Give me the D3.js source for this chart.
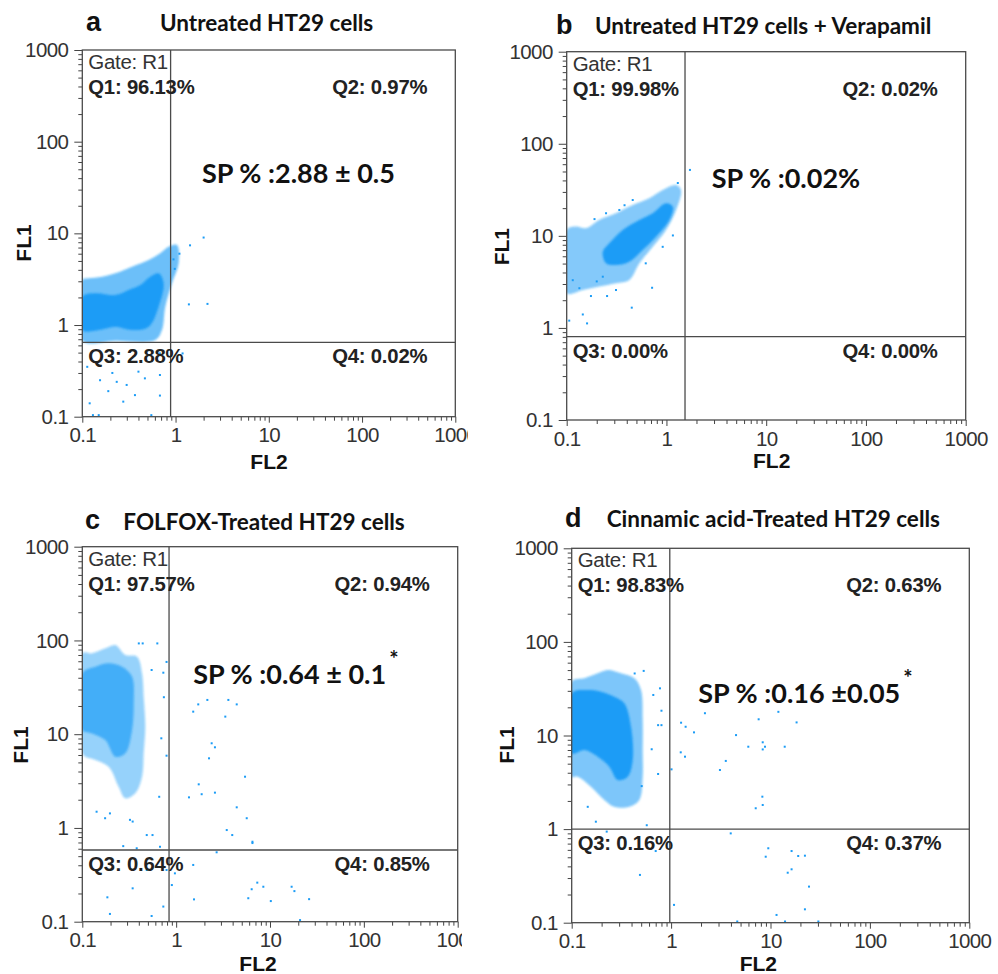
<!DOCTYPE html>
<html>
<head>
<meta charset="utf-8">
<script src="https://cdn.jsdelivr.net/npm/d3@7"></script>
<style>
  body { margin: 0; background: #fff; }
  svg { display: block; }
  .tick text { font-family: "Liberation Sans", Arial, sans-serif; font-size: 20.5px; fill: #333; letter-spacing: -0.6px; }
  .tick line { stroke: #444; }
</style>
</head>
<body>
<svg id="chart" width="998" height="974"></svg>
<script>
// ---- data (FL2 = x, FL1 = y) ----
var panelIds   = ['a', 'b', 'c', 'd'];
var titles     = ['Untreated HT29 cells', 'Untreated HT29 cells + Verapamil',
                  'FOLFOX-Treated HT29 cells', 'Cinnamic acid-Treated HT29 cells'];
var q1Labels   = ['Q1: 96.13%', 'Q1: 99.98%', 'Q1: 97.57%', 'Q1: 98.83%'];
var q2Labels   = ['Q2: 0.97%', 'Q2: 0.02%', 'Q2: 0.94%', 'Q2: 0.63%'];
var q3Labels   = ['Q3: 2.88%', 'Q3: 0.00%', 'Q3: 0.64%', 'Q3: 0.16%'];
var q4Labels   = ['Q4: 0.02%', 'Q4: 0.00%', 'Q4: 0.85%', 'Q4: 0.37%'];
var spLabels   = ['SP % :2.88 \u00b1 0.5', 'SP % :0.02%', 'SP % :0.64 \u00b1 0.1', 'SP % :0.16 \u00b10.05'];
var spStar     = [false, false, true, true];
var gateFL2    = [0.885, 1.535, 0.84, 0.97];
var gateFL1    = [0.647, 0.804, 0.582, 1.0];
var tickValues = [0.1, 1, 10, 100, 1000];
var tickLabels = ['0.1', '1', '10', '100', '1000'];

// outer (sparse) and inner (dense) outline of each main population
var haloA = [[0.1,3.1],[0.117,3.23],[0.163,3.37],[0.226,3.66],[0.341,4.32],[0.515,5.12],[0.685,6.05],[0.843,7.14],[1.035,7.45],[1.08,4.71],[0.915,2.85],[0.776,1.585],[0.715,0.881],[0.606,0.686],[0.226,0.674],[0.1,0.674]];
var coreA = [[0.1,2.04],[0.138,2.22],[0.226,2.12],[0.314,2.41],[0.419,2.73],[0.536,3.37],[0.659,3.66],[0.745,2.85],[0.659,1.585],[0.515,0.958],[0.341,0.881],[0.226,0.958],[0.15,0.881],[0.1,0.881]];
var haloB = [[0.1,11.6],[0.124,12.6],[0.156,12.1],[0.212,14.9],[0.312,17.6],[0.459,21.6],[0.673,25.6],[0.917,31.5],[1.25,35.6],[1.40,31.5],[1.25,19.1],[0.989,11.6],[0.728,7.62],[0.535,5.03],[0.424,3.31],[0.312,3.05],[0.212,2.81],[0.145,2.58],[0.1,2.38]];
var coreB = [[0.23,6.73],[0.267,8.30],[0.364,11.6],[0.535,14.9],[0.728,17.6],[0.989,22.6],[1.16,20.7],[1.07,14.9],[0.786,9.79],[0.578,7.02],[0.424,5.24],[0.312,4.82],[0.248,5.03]];
var haloC = [[0.1,72.9],[0.127,72.9],[0.176,82.4],[0.225,89.4],[0.287,70.0],[0.383,67.1],[0.433,44.7],[0.451,25.1],[0.469,12.0],[0.451,6.25],[0.433,3.52],[0.367,2.34],[0.287,2.07],[0.244,2.75],[0.191,4.50],[0.138,5.31],[0.108,5.75],[0.1,6.25]];
var coreC = [[0.1,44.7],[0.138,52.5],[0.191,57.1],[0.265,52.5],[0.339,41.0],[0.353,21.4],[0.339,11.1],[0.287,6.25],[0.225,5.75],[0.176,8.67],[0.127,10.2],[0.1,11.1]];
var haloD = [[0.1,37.6],[0.134,40.8],[0.183,46.2],[0.23,50.1],[0.313,46.2],[0.427,40.8],[0.498,30.6],[0.518,14.7],[0.518,6.46],[0.518,3.63],[0.479,2.05],[0.38,1.73],[0.268,1.73],[0.213,2.05],[0.156,2.84],[0.115,3.63],[0.1,3.63]];
var coreD = [[0.1,28.2],[0.145,30.6],[0.197,29.4],[0.268,26.0],[0.338,22.1],[0.395,12.4],[0.411,5.47],[0.366,3.63],[0.29,3.35],[0.239,4.64],[0.183,5.94],[0.134,7.0],[0.1,6.46]];

// single events outside the main populations
var dotsA = [[2.0,9.0],[2.2,1.7],[1.43,7.4],[1.1,6.0],[1.39,1.68],[0.12,0.14],[0.19,0.19],[0.155,0.25],[0.234,0.24],[0.299,0.222],[0.469,0.262],[0.68,0.17],[0.68,0.285],[0.367,0.172],[0.275,0.146],[0.13,0.104],[0.15,0.104],[0.55,0.104],[0.113,0.35],[0.68,0.49],[0.49,0.49],[1.19,0.49],[0.21,0.3],[0.4,0.31],[0.95,5.2],[0.98,4.1]];
var dotsB = [[0.106,1.2],[0.16,1.12],[0.145,1.4],[0.175,2.22],[0.254,2.22],[0.449,1.66],[0.718,2.73],[0.115,3.3],[0.134,2.7],[1.72,52],[0.312,2.58],[0.23,3.6],[0.62,5.03],[0.917,7.6],[1.16,10.1],[0.459,24.5],[0.337,19.1],[0.248,17.6],[0.19,15.2],[0.38,21.5],[1.3,37.5],[0.2,3.2]];
var dotsC = [[0.40,93],[0.44,93],[0.63,93],[0.79,59],[0.73,45.3],[0.548,48.4],[0.74,24.8],[0.695,9.04],[0.79,5.9],[0.66,2.15],[0.142,1.49],[0.197,1.43],[0.175,1.27],[0.322,1.22],[0.344,1.17],[0.486,0.84],[0.56,0.84],[0.673,0.63],[0.273,0.64],[0.38,0.607],
  [0.79,0.356],[0.97,0.328],[0.9,0.246],[0.344,0.227],[0.185,0.182],[0.197,0.121],[0.548,0.115],[0.73,0.145],[0.486,0.356],[1.52,0.403],[2.7,0.55],[1.55,0.173],[5.87,0.178],[6.38,0.222],[7.32,0.261],[8.49,0.236],[10.2,0.166],[17.0,0.236],[18.2,0.212],[26.1,0.174],[20.9,0.104],
  [1.72,20.8],[2.15,23.2],[3.6,23.2],[4.42,20.8],[1.52,17.4],[3.34,15.4],[2.39,8.0],[2.59,7.25],[2.24,5.53],[5.42,3.52],[1.74,2.92],[1.87,2.29],[2.59,2.38],[1.37,2.12],[4.42,1.66],[5.65,1.27],[3.46,0.95],[3.96,0.84],[6.5,0.713],[6.5,0.69]];
var dotsD = [[0.53,49],[0.43,46],[0.662,27.1],[0.773,31.9],[0.80,18.4],[0.74,12.9],[0.8,12.9],[0.638,7.13],[0.74,3.88],[0.506,2.88],[0.569,1.1],[0.175,1.2],[0.145,1.73],[1.01,4.35],[1.26,13.7],[1.4,12.4],[1.7,10.8],[1.25,6.61],[1.38,5.94],[2.19,17.3],[4.5,10.1],[5.98,7.59],[3.1,4.28],[3.55,5.35],[7.6,14.9],[8.35,8.46],[8.8,7.59],[8.35,7.1],[12.0,17.9],[13.9,7.59],[18.3,13.8],[8.28,2.22],[7.1,1.67],[8.35,1.81],[3.98,0.90],
  [9.5,0.624],[8.95,0.507],[16.3,0.583],[19.0,0.516],[22.2,0.52],[14.9,0.342],[16.3,0.372],[24.4,0.243],[22.2,0.139],[11.5,0.121],[30.3,0.103],[14.0,0.103],[4.63,0.103],[1.07,0.155],[0.486,0.324],[0.70,0.583],[0.225,0.94],[0.336,0.80]];

var halos = [haloA, haloB, haloC, haloD];
var cores = [coreA, coreB, coreC, coreD];
var dots  = [dotsA, dotsB, dotsC, dotsD];

// ---- layout ----
var layout = [
  {x0: 82.3,  x1: 455.3, y0: 50,    y1: 416.7, clip: 468, letter: [86, 22],  title: [160, 22],   sp: [202, 172],   fl2: [269, 461.7], fl1: [23.3, 243]},
  {x0: 566.7, x1: 965.7, y0: 51.7,  y1: 420,   clip: 998, letter: [556, 25], title: [595, 25],   sp: [711.7, 177], fl2: [771.7, 460], fl1: [501.7, 246.7]},
  {x0: 82.3,  x1: 457.7, y0: 546.7, y1: 921.7, clip: 462, letter: [85, 520], title: [123.3, 521.7], sp: [193.3, 673.3], fl2: [258, 963], fl1: [20.7, 745]},
  {x0: 571.7, x1: 969.3, y0: 548.3, y1: 922.7, clip: 998, letter: [565, 518], title: [606.7, 518], sp: [698.3, 691.7], fl2: [758.3, 963.5], fl1: [506.7, 745]}
];
var halOpacity = [0.65, 0.55, 0.45, 0.58];
var coreOpacity = [1, 1, 0.68, 1];
var blue = '#1b9cf6';
var ink = '#111';
var frame = '#4a4a4a';
var minorTicks = [];
[0.1, 1, 10, 100].forEach(function (d) { for (var k = 2; k <= 9; k++) minorTicks.push(d * k); });

var svg = d3.select('#chart');
var defs = svg.append('defs');
defs.append('filter').attr('id', 'soft').append('feGaussianBlur').attr('stdDeviation', 1.2);

panelIds.forEach(function (id, i) {
  var L = layout[i];
  defs.append('clipPath').attr('id', 'clip' + id)
    .append('rect').attr('x', 0).attr('y', L.y0 - 60).attr('width', L.clip).attr('height', 520);
  defs.append('clipPath').attr('id', 'plot' + id)
    .append('rect').attr('x', L.x0).attr('y', L.y0).attr('width', L.x1 - L.x0).attr('height', L.y1 - L.y0);

  var x = d3.scaleLog().domain([0.1, 1000]).range([L.x0, L.x1]);
  var y = d3.scaleLog().domain([0.1, 1000]).range([L.y1, L.y0]);
  var g = svg.append('g').attr('clip-path', 'url(#clip' + id + ')');

  // axes: major + minor ticks, pointing out
  g.append('g').attr('transform', 'translate(' + L.x0 + ',0)')
    .call(d3.axisLeft(y).tickValues(tickValues).tickSize(8).tickPadding(6).tickFormat(function (d, j) { return tickLabels[j]; }))
    .call(function (a) { a.select('.domain').remove(); });
  g.append('g').attr('transform', 'translate(' + L.x0 + ',0)')
    .call(d3.axisLeft(y).tickValues(minorTicks).tickSize(4).tickFormat(''))
    .call(function (a) { a.select('.domain').remove(); });
  g.append('g').attr('transform', 'translate(0,' + L.y1 + ')')
    .call(d3.axisBottom(x).tickValues(tickValues).tickSize(6).tickPadding(5).tickFormat(function (d, j) { return tickLabels[j]; }))
    .call(function (a) { a.select('.domain').remove(); });
  g.append('g').attr('transform', 'translate(0,' + L.y1 + ')')
    .call(d3.axisBottom(x).tickValues(minorTicks).tickSize(4).tickFormat(''))
    .call(function (a) { a.select('.domain').remove(); });

  // populations
  var blob = d3.line().x(function (d) { return x(d[0]); }).y(function (d) { return y(d[1]); })
    .curve(d3.curveCatmullRomClosed.alpha(0.5));
  var pg = g.append('g').attr('clip-path', 'url(#plot' + id + ')');
  pg.append('path').attr('d', blob(halos[i])).attr('fill', blue).attr('fill-opacity', halOpacity[i]).attr('filter', 'url(#soft)');
  pg.append('path').attr('d', blob(cores[i])).attr('fill', blue).attr('fill-opacity', coreOpacity[i]).attr('filter', 'url(#soft)');
  pg.selectAll('rect.dot').data(dots[i]).enter().append('rect').attr('class', 'dot')
    .attr('x', function (d) { return x(d[0]) - 1; })
    .attr('y', function (d) { return y(d[1]) - 1; })
    .attr('width', 2).attr('height', 2).attr('fill', blue);

  // frame + quadrant gates
  g.append('rect').attr('x', L.x0).attr('y', L.y0).attr('width', L.x1 - L.x0).attr('height', L.y1 - L.y0)
    .attr('fill', 'none').attr('stroke', frame).attr('stroke-width', 1.3);
  g.append('line').attr('x1', x(gateFL2[i])).attr('x2', x(gateFL2[i])).attr('y1', L.y0).attr('y2', L.y1)
    .attr('stroke', frame).attr('stroke-width', 1.3);
  g.append('line').attr('x1', L.x0).attr('x2', L.x1).attr('y1', y(gateFL1[i])).attr('y2', y(gateFL1[i]))
    .attr('stroke', frame).attr('stroke-width', 1.3);

  // quadrant text
  var qf = '"Liberation Sans", Arial, sans-serif';
  g.append('text').attr('x', L.x0 + 6).attr('y', L.y0 + 19).attr('font-family', qf).attr('font-size', 20.5)
    .attr('fill', '#333').attr('letter-spacing', -0.3).text('Gate: R1');
  var hy = y(gateFL1[i]);
  [[q1Labels[i], L.x0 + 6, L.y0 + 44, 'start'], [q2Labels[i], L.x1 - 28, L.y0 + 44, 'end'],
   [q3Labels[i], L.x0 + 6, hy + 21, 'start'], [q4Labels[i], L.x1 - 28, hy + 21, 'end']].forEach(function (q) {
    g.append('text').attr('x', q[1]).attr('y', q[2]).attr('text-anchor', q[3])
      .attr('font-family', qf).attr('font-weight', 'bold').attr('font-size', 20.3).attr('letter-spacing', -0.2)
      .attr('fill', '#222').text(q[0]);
  });

  // SP annotation
  var sp = g.append('text').attr('x', L.sp[0]).attr('y', L.sp[1]).attr('dominant-baseline', 'central')
    .attr('font-family', 'Lato, "Open Sans", sans-serif').attr('font-weight', 'bold').attr('font-size', 27)
    .attr('fill', ink);
  sp.append('tspan').text(spLabels[i]);
  if (spStar[i]) sp.append('tspan').attr('dx', 3).attr('dy', -15).attr('font-size', 22).text('*');

  // axis titles
  g.append('text').attr('x', L.fl2[0]).attr('y', L.fl2[1]).attr('text-anchor', 'middle').attr('dominant-baseline', 'central')
    .attr('font-family', qf).attr('font-weight', 'bold').attr('font-size', 21).attr('fill', ink).text('FL2');
  g.append('text').attr('transform', 'translate(' + L.fl1[0] + ',' + L.fl1[1] + ') rotate(-90)')
    .attr('text-anchor', 'middle').attr('dominant-baseline', 'central')
    .attr('font-family', qf).attr('font-weight', 'bold').attr('font-size', 21).attr('fill', ink).text('FL1');

  // panel letter + title
  svg.append('text').attr('x', L.letter[0]).attr('y', L.letter[1]).attr('dominant-baseline', 'central')
    .attr('font-family', qf).attr('font-weight', 'bold').attr('font-size', 27).attr('fill', ink).text(id);
  svg.append('text').attr('x', L.title[0]).attr('y', L.title[1]).attr('dominant-baseline', 'central')
    .attr('font-family', 'Lato, "Open Sans", sans-serif').attr('font-weight', 'bold').attr('font-size', 22.5)
    .attr('fill', ink).text(titles[i]);
});
</script>
</body>
</html>
